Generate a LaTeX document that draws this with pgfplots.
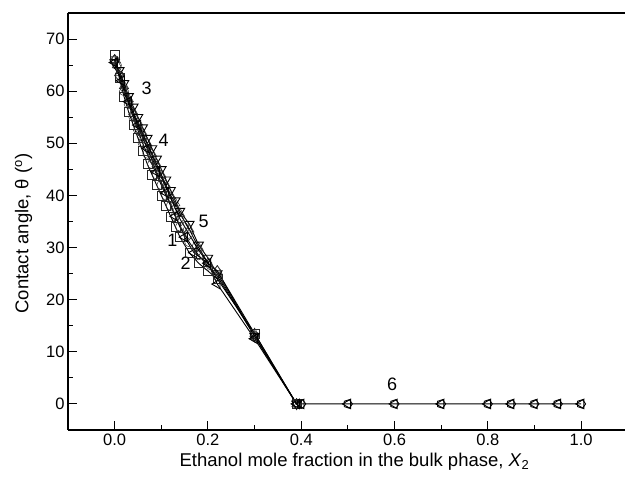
\documentclass[border=0pt]{standalone}
\usepackage{pgfplots}
\pgfplotsset{compat=1.18}
\usepackage{fontspec}
\setmainfont{Liberation Sans}
\usetikzlibrary{plotmarks}

\pgfplotsset{
  ser/.style={black, line width=0.9pt, mark options={solid, fill=white, draw=black!85, line width=0.5pt}},
}

\begin{document}
\begin{tikzpicture}
\begin{axis}[
    scale only axis,
    width=557pt, height=417pt,
    xmin=-0.1, xmax=1.094,
    ymin=-5, ymax=75,
    axis lines*=left,
    axis line style={line width=1.5pt},
    tick style={black, line width=1pt},
    tick align=inside,
    major tick length=9pt,
    minor tick length=5pt,
    xtick={0,0.2,0.4,0.6,0.8,1.0},
    ytick={0,10,20,30,40,50,60,70},
    minor x tick num=1,
    minor y tick num=1,
    xticklabel style={/pgf/number format/.cd, fixed, fixed zerofill, precision=1},
    /pgf/number format/assume math mode=true,
    ticklabel style={font=\fontsize{16.5}{19}\selectfont},
    label style={font=\fontsize{18.5}{21}\selectfont},
    xlabel={Ethanol mole fraction in the bulk phase, \textit{X}\textsubscript{2}},
    ylabel={Contact angle, θ (\textsuperscript{o})},
    xlabel style={xshift=8pt, yshift=-1pt},
    ylabel style={xshift=-12pt, yshift=7pt},
    clip=false,
]
% series 1
\addplot[ser, mark=square, mark size=4.5pt] coordinates {
 (0,67) (0.01,62.5) (0.02,59) (0.03,56) (0.04,53.5) (0.05,51) (0.06,48.5)
 (0.07,46) (0.08,44) (0.09,42) (0.1,40) (0.11,38) (0.12,36) (0.13,34)
 (0.14,32) (0.16,29) (0.18,27) (0.2,25.5) (0.22,24) (0.3,13.5) (0.39,0)
};
% series 2
\addplot[ser, mark=o, mark size=4.5pt] coordinates {
 (0,66) (0.005,65) (0.01,63) (0.02,60) (0.03,57.5) (0.04,55) (0.05,52.5)
 (0.06,50) (0.07,48) (0.08,46) (0.09,44) (0.1,42) (0.11,40) (0.12,38)
 (0.13,36) (0.14,34) (0.16,31) (0.18,28.5) (0.2,26.5) (0.22,24.5) (0.3,13) (0.39,0)
};
% series 3
\addplot[ser, mark=triangle, mark size=5.5pt] coordinates {
 (0,66) (0.005,65) (0.01,63.5) (0.02,61) (0.03,58.5) (0.04,56) (0.05,54)
 (0.06,52) (0.07,50) (0.08,48) (0.09,46) (0.1,44) (0.11,42) (0.12,40)
 (0.13,38.5) (0.14,36.5) (0.16,33.5) (0.18,30) (0.2,27) (0.22,25.5) (0.3,13.5) (0.39,0)
};
% series 4
\addplot[ser, mark=triangle, mark size=5.5pt, mark options={rotate=180}] coordinates {
 (0,65.5) (0.01,64) (0.02,61.5) (0.03,59) (0.04,57) (0.05,55) (0.06,53)
 (0.07,51) (0.08,49) (0.09,47) (0.1,45) (0.11,43) (0.12,41) (0.13,39)
 (0.14,37) (0.16,34.5) (0.18,30.5) (0.2,28) (0.22,25) (0.3,13) (0.39,0)
};
% series 5
\addplot[ser, mark=diamond, mark size=5.5pt] coordinates {
 (0,66) (0.01,63) (0.02,60.5) (0.03,58) (0.04,55.5) (0.05,53) (0.06,51)
 (0.07,49) (0.08,47) (0.09,45.5) (0.1,43.5) (0.11,41.5) (0.12,39.5) (0.13,37.5)
 (0.14,35.5) (0.15,34) (0.16,32.5) (0.18,29.5) (0.2,27) (0.22,25.5) (0.3,13) (0.39,0)
};
% series 6
\addplot[ser, mark=triangle, mark size=5.5pt, mark options={rotate=90}] coordinates {
 (0,65.5) (0.015,62) (0.03,58) (0.05,53.5) (0.07,49) (0.09,44.5) (0.11,40.5)
 (0.13,36) (0.15,32) (0.17,29) (0.2,27) (0.22,23) (0.3,12.5) (0.39,0)
 (0.4,0) (0.5,0) (0.6,0) (0.7,0) (0.8,0) (0.85,0) (0.9,0) (0.95,0) (1.0,0)
};
\addplot[ser, only marks, mark=pentagon, mark size=4.5pt, mark options={rotate=-90}] coordinates {
 (0.4,0) (0.5,0) (0.6,0) (0.7,0) (0.8,0) (0.85,0) (0.9,0) (0.95,0) (1.0,0)
};
\draw[line width=1.5pt] (rel axis cs:0,1) -- (rel axis cs:1,1);
\begin{scope}[font=\fontsize{18}{20}\selectfont]
\node at (axis cs:0.0685,60.6) {3};
\node at (axis cs:0.105,50.6) {4};
\node at (axis cs:0.191,35.1) {5};
\node at (axis cs:0.124,31.3) {1};
\node at (axis cs:0.152,26.9) {2};
\node at (axis cs:0.595,3.8) {6};
\end{scope}
\end{axis}
\pgfresetboundingbox
\path ([shift={(-68pt,-58pt)}]current axis.south west) rectangle ([shift={(0pt,13pt)}]current axis.north east);
\end{tikzpicture}
\end{document}
